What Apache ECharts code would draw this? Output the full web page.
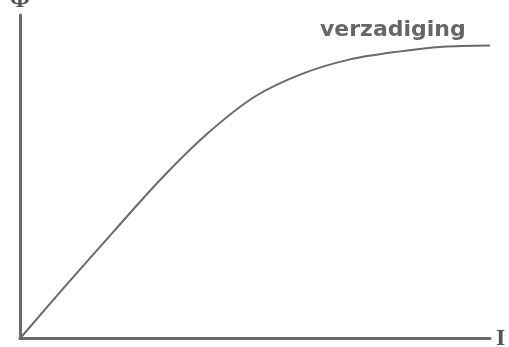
<!DOCTYPE html>
<html>
<head>
<meta charset="utf-8">
<style>
  html, body { margin: 0; padding: 0; background: #ffffff; }
  #chart { width: 509px; height: 347px; }
</style>
<script src="https://cdn.jsdelivr.net/npm/echarts@6/dist/echarts.min.js"></script>
</head>
<body>
<div id="chart"></div>
<script>
// Magnetisation curve: flux grows almost linearly with current, then levels off (saturation).
const current = [0, 10, 20, 30, 40, 50, 60, 70, 80, 90, 100];
const flux    = [0, 16.8, 33.2, 49.3, 63.5, 74.8, 81.8, 86.2, 88.6, 90.2, 90.6];
const xName = 'I';
const yName = 'Φ';
const saturationText = 'verzadiging';

const ink = '#6a6a6a';
const chart = echarts.init(document.getElementById('chart'), null, { renderer: 'canvas' });

chart.setOption({
  animation: false,
  backgroundColor: '#ffffff',
  grid: { left: 20, right: 19, top: 15, bottom: 8.5, containLabel: false, outerBoundsMode: 'none' },
  xAxis: {
    type: 'value', min: 0, max: 100,
    name: xName, nameLocation: 'end', nameGap: 6,
    nameTextStyle: { fontFamily: 'Liberation Serif', fontSize: 24, color: '#555', fontWeight: 'bold' },
    axisLine: { show: true, lineStyle: { color: ink, width: 3 } },
    axisTick: { show: false }, axisLabel: { show: false }, splitLine: { show: false }
  },
  yAxis: {
    type: 'value', min: 0, max: 100,
    name: yName, nameLocation: 'end', nameGap: 2,
    nameTextStyle: { fontFamily: 'Liberation Serif', fontSize: 24, color: '#555', fontWeight: 'bold' },
    axisLine: { show: true, lineStyle: { color: ink, width: 3 } },
    axisTick: { show: false }, axisLabel: { show: false }, splitLine: { show: false }
  },
  series: [{
    type: 'line',
    data: current.map((c, i) => [c, flux[i]]),
    smooth: 0.3,
    showSymbol: false,
    clip: false,
    lineStyle: { color: ink, width: 2 }
  }],
  graphic: [{
    type: 'text',
    left: 320, top: 19,
    style: {
      text: saturationText,
      fill: '#666666',
      font: 'bold 22px "DejaVu Sans"'
    }
  }]
});
</script>
</body>
</html>
